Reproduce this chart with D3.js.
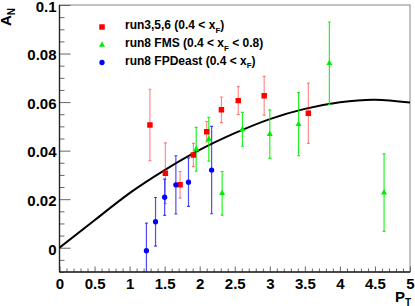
<!DOCTYPE html>
<html>
<head>
<meta charset="utf-8">
<script src="https://cdn.jsdelivr.net/npm/d3@7"></script>
<style>
  body { margin: 0; background: #fff; }
  text { font-family: "Liberation Sans", Arial, sans-serif; font-weight: bold; }
</style>
</head>
<body>
<div id="chart"></div>
<script>
// run3,5,6 (red squares)
var redPt  = [1.29, 1.51, 1.72, 1.91, 2.10, 2.31, 2.55, 2.92, 3.55]
var redAN  = [0.0506, 0.0307, 0.0259, 0.0382, 0.0478, 0.0568, 0.0606, 0.0626, 0.0554]
var redErr = [0.0147, 0.0125, 0.0055, 0.0048, 0.0042, 0.0053, 0.0058, 0.0080, 0.0124]

// run8 FMS (green triangles)
var greenPt  = [1.95, 2.13, 2.32, 2.61, 3.00, 3.41, 3.85, 4.63]
var greenAN  = [0.0406, 0.0447, 0.0224, 0.0488, 0.0468, 0.0509, 0.0760, 0.0227]
var greenErr = [0.0090, 0.0090, 0.0090, 0.0070, 0.0100, 0.0130, 0.0170, 0.0160]

// run8 FPDeast (blue circles)
var bluePt  = [1.24, 1.37, 1.50, 1.66, 1.84, 2.17]
var blueAN  = [-0.0012, 0.0107, 0.0208, 0.0259, 0.0270, 0.0320]
var blueErr = [0.0113, 0.0100, 0.0075, 0.0120, 0.0100, 0.0180]

// theory curve
var curvePt = [0, 0.5, 1, 1.5, 2, 2.5, 3, 3.5, 4, 4.5, 5]
var curveAN = [0, 0.0113, 0.0225, 0.032, 0.0403, 0.0472, 0.053, 0.0572, 0.0599, 0.061, 0.0598]

var xTicks = [0, 0.5, 1, 1.5, 2, 2.5, 3, 3.5, 4, 4.5, 5]
var yTicks = [0, 0.02, 0.04, 0.06, 0.08, 0.1]

var legendLabels = ['run3,5,6 (0.4 < x', 'run8 FMS (0.4 < x', 'run8 FPDeast (0.4 < x']
var legendTails  = [')', ' < 0.8)', ')']

var w = 415, h = 306
var fLeft = 59.5, fRight = 410, fTop = 5, fBottom = 272

var svg = d3.select('#chart').append('svg').attr('width', w).attr('height', h)

var x = d3.scaleLinear().domain([0, 5]).range([fLeft, fRight])
var y = d3.scaleLinear().domain([-0.01, 0.1]).range([fBottom, fTop])

svg.append('defs').append('clipPath').attr('id', 'clip')
  .append('rect').attr('x', fLeft).attr('y', fTop).attr('width', fRight - fLeft).attr('height', fBottom - fTop)

// frame
svg.append('rect').attr('x', fLeft).attr('y', fTop).attr('width', fRight - fLeft).attr('height', fBottom - fTop)
  .attr('fill', 'none').attr('stroke', '#999').attr('stroke-width', 1.2)

// minor ticks
var yMinor = d3.range(-0.01, 0.1001, 0.005).filter(function(v){ return Math.abs(Math.round(v / 0.02) * 0.02 - v) > 1e-6 })
var xMinor = d3.range(0, 5.001, 0.1).filter(function(v){ return Math.abs(Math.round(v / 0.5) * 0.5 - v) > 1e-6 })

svg.append('g').attr('transform', 'translate(' + fLeft + ',0)')
  .call(d3.axisLeft(y).tickValues(yMinor).tickSize(-5).tickFormat(''))
  .call(function(g){ g.select('.domain').remove(); g.selectAll('line').attr('stroke', '#666') })
svg.append('g').attr('transform', 'translate(0,' + fBottom + ')')
  .call(d3.axisBottom(x).tickValues(xMinor).tickSize(-3.5).tickFormat(''))
  .call(function(g){ g.select('.domain').remove(); g.selectAll('line').attr('stroke', '#666') })

// major ticks + labels
var yAxis = svg.append('g').attr('transform', 'translate(' + fLeft + ',0)')
  .call(d3.axisLeft(y).tickValues(yTicks).tickSize(-11).tickPadding(3).tickFormat(d3.format('~g')))
yAxis.select('.domain').remove()
yAxis.selectAll('line').attr('stroke', '#666')
yAxis.selectAll('text').attr('font-size', 15).attr('fill', '#000').attr('dy', '0.42em')

var xAxis = svg.append('g').attr('transform', 'translate(0,' + fBottom + ')')
  .call(d3.axisBottom(x).tickValues(xTicks).tickSize(-5.5).tickPadding(6).tickFormat(d3.format('~g')))
xAxis.select('.domain').remove()
xAxis.selectAll('line').attr('stroke', '#666')
xAxis.selectAll('text').attr('font-size', 15).attr('fill', '#000')

// axis lines
svg.append('line').attr('x1', fLeft).attr('x2', fLeft).attr('y1', fTop).attr('y2', fBottom).attr('stroke', '#222').attr('stroke-width', 1.3)
svg.append('line').attr('x1', fLeft).attr('x2', fRight).attr('y1', fBottom).attr('y2', fBottom).attr('stroke', '#222').attr('stroke-width', 1.3)

// axis titles
var yt = svg.append('text').attr('transform', 'translate(11,8) rotate(-90)').attr('text-anchor', 'end').attr('font-size', 15)
yt.append('tspan').text('A')
yt.append('tspan').attr('font-size', 10).attr('dy', 4).text('N')

var xt = svg.append('text').attr('x', 411).attr('y', 302).attr('text-anchor', 'end').attr('font-size', 15)
xt.append('tspan').text('P')
xt.append('tspan').attr('font-size', 10).attr('dy', 4).text('T')

var plot = svg.append('g').attr('clip-path', 'url(#clip)')

// curve
var line = d3.line().x(function(d){ return x(d[0]) }).y(function(d){ return y(d[1]) }).curve(d3.curveNatural)
plot.append('path').datum(d3.zip(curvePt, curveAN)).attr('d', line)
  .attr('fill', 'none').attr('stroke', '#000').attr('stroke-width', 2)

function errBars(pt, an, err, color, op){
  var g = plot.append('g').attr('stroke', color).attr('stroke-opacity', op).attr('stroke-width', 1.2)
  pt.forEach(function(p, i){
    var cx = x(p), y1 = y(an[i] + err[i]), y2 = y(an[i] - err[i])
    g.append('line').attr('x1', cx).attr('x2', cx).attr('y1', y1).attr('y2', y2)
    g.append('line').attr('x1', cx - 1.5).attr('x2', cx + 1.5).attr('y1', y1).attr('y2', y1)
    g.append('line').attr('x1', cx - 1.5).attr('x2', cx + 1.5).attr('y1', y2).attr('y2', y2)
  })
}

errBars(redPt, redAN, redErr, '#ff0000', 0.45)
errBars(bluePt, blueAN, blueErr, '#0000ff', 0.7)
errBars(greenPt, greenAN, greenErr, '#00ee00', 0.85)

var sq = d3.symbol().type(d3.symbolSquare).size(30)
var tri = d3.symbol().type(d3.symbolTriangle).size(16)
var circ = d3.symbol().type(d3.symbolCircle).size(22)

function markers(pt, an, sym, color){
  plot.selectAll(null).data(d3.zip(pt, an)).enter().append('path')
    .attr('d', sym).attr('fill', color)
    .attr('transform', function(d){ return 'translate(' + x(d[0]) + ',' + y(d[1]) + ')' })
}
markers(redPt, redAN, sq, '#ff0000')
markers(bluePt, blueAN, circ, '#0000ff')
markers(greenPt, greenAN, tri, '#00ee00')

// legend
var legSyms = [sq, tri, circ]
var legColors = ['#ff0000', '#00ee00', '#0000ff']
var legY = [27, 45, 62.5]
legendLabels.forEach(function(lab, i){
  svg.append('path').attr('d', legSyms[i]).attr('fill', legColors[i])
    .attr('transform', 'translate(102,' + legY[i] + ')')
  var t = svg.append('text').attr('x', 125).attr('y', legY[i] + 2).attr('font-size', 12).attr('fill', '#000')
  t.append('tspan').text(lab)
  t.append('tspan').attr('font-size', 8).attr('dy', 3.5).text('F')
  t.append('tspan').attr('dy', -3.5).text(legendTails[i])
})
</script>
</body>
</html>
